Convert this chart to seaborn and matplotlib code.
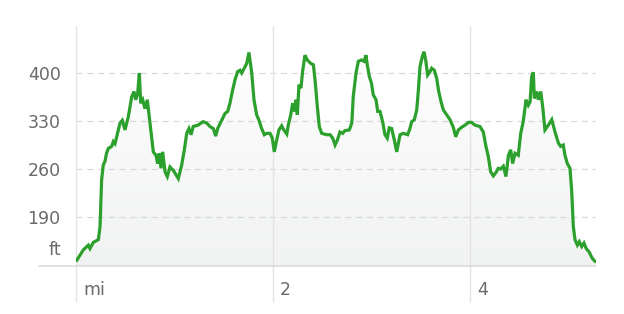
import numpy as np
import pandas as pd
import matplotlib
matplotlib.use("Agg")
import matplotlib.pyplot as plt
from matplotlib.transforms import ScaledTranslation
from matplotlib.colors import LinearSegmentedColormap
import seaborn as sns

distance_mi = [0, 0.074, 0.125, 0.142, 0.176, 0.227, 0.244, 0.26, 0.277, 0.294, 0.31, 0.328, 0.362, 0.379, 0.396,
               0.413, 0.447, 0.47, 0.497, 0.531, 0.548, 0.565, 0.589, 0.606, 0.626, 0.643, 0.657, 0.677, 0.70, 0.724,
               0.744, 0.768, 0.785, 0.812, 0.829, 0.846, 0.863, 0.88, 0.904, 0.927, 0.954, 0.988, 1.005, 1.039, 1.073,
               1.10, 1.124, 1.147, 1.168, 1.19, 1.24, 1.29, 1.327, 1.36, 1.394, 1.418, 1.438, 1.479, 1.513, 1.54,
               1.563, 1.587, 1.614, 1.641, 1.665, 1.682, 1.716, 1.733, 1.756, 1.784, 1.807, 1.834, 1.858, 1.885, 1.912,
               1.936, 1.97, 1.993, 2.013, 2.037, 2.06, 2.088, 2.105, 2.14, 2.155, 2.18, 2.20, 2.216, 2.234, 2.247,
               2.264, 2.284, 2.30, 2.325, 2.348, 2.383, 2.41, 2.43, 2.45, 2.47, 2.494, 2.545, 2.58, 2.606, 2.63,
               2.653, 2.68, 2.708, 2.73, 2.775, 2.80, 2.815, 2.843, 2.866, 2.90, 2.924, 2.944, 2.957, 2.978, 3.0,
               3.018, 3.046, 3.063, 3.086, 3.113, 3.137, 3.16, 3.18, 3.205, 3.232, 3.256, 3.29, 3.323, 3.367, 3.39,
               3.408, 3.435, 3.459, 3.476, 3.492, 3.516, 3.533, 3.55, 3.57, 3.594, 3.611, 3.638, 3.662, 3.68, 3.706,
               3.73, 3.764, 3.797, 3.83, 3.855, 3.882, 3.916, 3.95, 3.984, 4.017, 4.05, 4.10, 4.135, 4.162, 4.186,
               4.21, 4.237, 4.264, 4.287, 4.31, 4.338, 4.365, 4.39, 4.413, 4.433, 4.457, 4.49, 4.515, 4.54, 4.569,
               4.592, 4.61, 4.626, 4.643, 4.653, 4.677, 4.694, 4.718, 4.738, 4.761, 4.795, 4.83, 4.863, 4.897, 4.92,
               4.947, 4.964, 4.988, 5.015, 5.032, 5.049, 5.066, 5.09, 5.11, 5.134, 5.157, 5.18, 5.21, 5.24, 5.265,
               5.28]
elevation_ft = [125, 142, 149, 144, 153, 157, 176, 244, 266, 271, 283, 290, 293, 300, 297,
                307, 327, 331, 317, 336, 351, 365, 373, 361, 370, 400, 356, 361, 348, 361,
                336, 307, 285, 280, 268, 283, 261, 285, 256, 249, 263, 258, 254, 246, 266,
                288, 312, 319, 310, 322, 324, 329, 327, 322, 319, 308, 319, 331, 341, 344,
                356, 373, 390, 402, 404, 400, 409, 414, 430, 400, 361, 339, 331, 319, 310,
                312, 312, 305, 285, 302, 317, 323, 318, 311, 324, 339, 356, 344, 361, 339,
                383, 378, 402, 426, 419, 414, 412, 385, 351, 322, 312, 310, 310, 305, 295,
                302, 314, 312, 316, 317, 327, 366, 400, 417, 419, 417, 426, 412, 395, 385,
                368, 361, 344, 344, 329, 310, 305, 320, 319, 302, 285, 310, 312, 310, 319,
                329, 332, 346, 375, 409, 424, 431, 419, 397, 402, 407, 404, 392, 375, 358,
                346, 339, 332, 321, 307, 317, 321, 324, 328, 328, 324, 322, 314, 293, 278,
                256, 250, 255, 261, 260, 264, 249, 280, 288, 268, 283, 280, 312, 329, 361,
                353, 358, 395, 401, 363, 373, 361, 373, 351, 317, 324, 332, 314, 298, 293,
                295, 280, 268, 261, 229, 176, 157, 149, 154, 147, 152, 144, 139, 130, 126,
                124]

x_tick_values = [0, 2, 4]
x_tick_labels = ["mi", "2", "4"]
y_tick_values = [190, 260, 330, 400]
y_tick_labels = ["190", "260", "330", "400"]
y_unit_label = "ft"
y_unit_value = 142

df = pd.DataFrame({"distance": distance_mi, "elevation": elevation_ft})

sns.set_theme(style="white")
plt.rcParams["font.family"] = ["DejaVu Sans"]

W, H, DPI = 624, 314, 100
fig = plt.figure(figsize=(W / DPI, H / DPI), dpi=DPI, facecolor="white")
left, right, top, bottom = 76, 596, 26, 266
ax = fig.add_axes([left / W, 1 - bottom / H, (right - left) / W, (bottom - top) / H])
ax.set_facecolor("none")

px_per_mi = 98.5
px_per_ft = 48 / 70.0
xmax = (right - left) / px_per_mi
ymin = 400 - (bottom - 73) / px_per_ft
ymax = 400 + (73 - top) / px_per_ft
ax.set_xlim(0, xmax)
ax.set_ylim(ymin, ymax)

# gradient fill under the line
cmap = LinearSegmentedColormap.from_list("g", ["#f1f2f2", "#ffffff"])
grad = np.linspace(0, 1, 256).reshape(-1, 1)
im = ax.imshow(grad, extent=[0, xmax, ymin, ymax], origin="lower", aspect="auto",
               cmap=cmap, zorder=0.5)
poly = ax.fill_between(df["distance"], df["elevation"], ymin, color="none", lw=0)
path = poly.get_paths()[0]
im.set_clip_path(path, transform=ax.transData)

# horizontal dashed grid lines
for v in y_tick_values:
    ax.axhline(v, color="#d9d9d9", lw=0.9, ls=(0, (5, 3.6)), zorder=1)

# vertical grid lines extending below the axis
ax.vlines(x_tick_values, -36 / 240, 1, transform=ax.get_xaxis_transform(),
          color="#e3e3e3", lw=1.0, clip_on=False, zorder=1)

# baseline
ax.plot([-(left - 39) / (right - left), 1], [0, 0], transform=ax.transAxes,
        color="#dcdcdc", lw=1.2, clip_on=False, zorder=1)

sns.lineplot(data=df, x="distance", y="elevation", ax=ax, color="#2ca02c",
             linewidth=2.3, zorder=3, solid_joinstyle="miter", solid_capstyle="butt")

for s in ax.spines.values():
    s.set_visible(False)
ax.set_xlabel("")
ax.set_ylabel("")
ax.set_xticks([])
ax.set_yticks(y_tick_values)
ax.set_yticklabels(y_tick_labels)
ax.tick_params(axis="y", length=0, pad=11, labelsize=12.5, labelcolor="#6a6a6a")

text_kw = dict(fontsize=12.5, color="#6a6a6a")
ax.text(0, y_unit_value, y_unit_label, ha="right", va="center",
        transform=ax.transData + ScaledTranslation(-15 / DPI, 0, fig.dpi_scale_trans),
        clip_on=False, **text_kw)
for v, lab in zip(x_tick_values, x_tick_labels):
    ax.text(v, 0, lab, ha="left", va="center",
            transform=ax.get_xaxis_transform() + ScaledTranslation(7 / DPI, -24 / DPI, fig.dpi_scale_trans),
            clip_on=False, **text_kw)

fig.savefig("out.png", dpi=DPI, facecolor="white")
